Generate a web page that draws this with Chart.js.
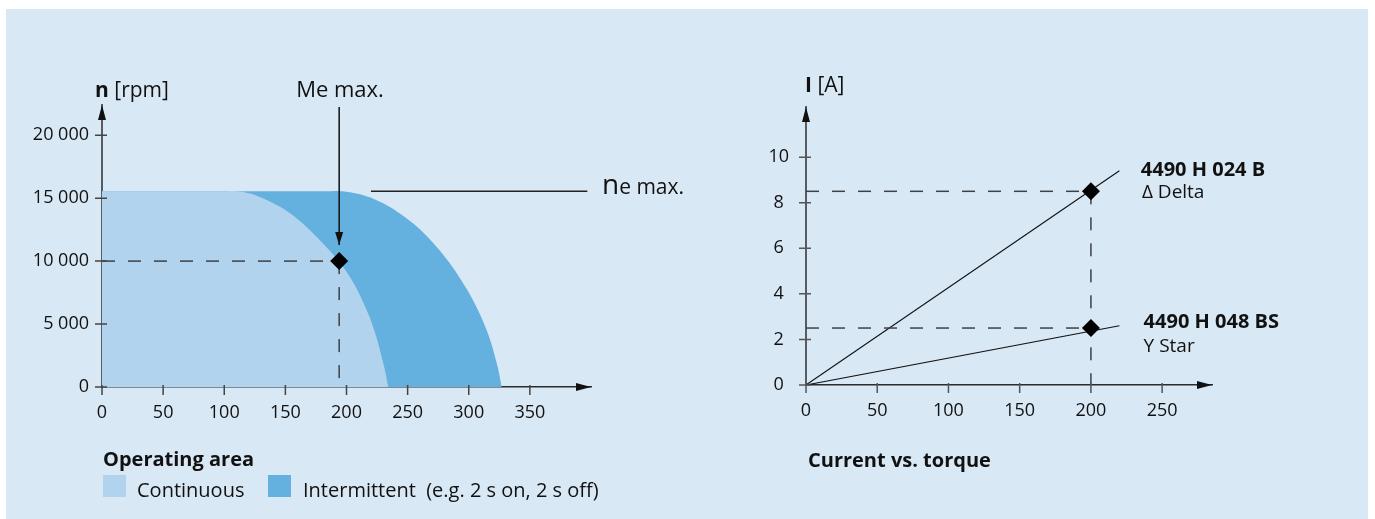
<!DOCTYPE html>
<html>
<head>
<meta charset="utf-8">
<script src="https://cdn.jsdelivr.net/npm/chart.js@4.4.1/dist/chart.umd.min.js"></script>
<style>
  html, body { margin: 0; background: #fff; width: 1375px; height: 519px; overflow: hidden; }
  #panel { position: absolute; left: 6px; top: 9px; width: 1362px; height: 510px; background: #d9e8f5; }
  .box { position: absolute; top: 0; height: 519px; }
  .note { position: absolute; font: 20px "Open Sans", "Noto Sans", sans-serif; color: #111; line-height: 22px; white-space: pre; }
  .b { font-weight: 700; }
  .sw { position: absolute; width: 23px; height: 22px; }
</style>
</head>
<body>
<div id="panel"></div>
<div class="box" style="left:0;width:700px"><canvas id="opArea"></canvas></div>
<div class="box" style="left:690px;width:685px"><canvas id="current"></canvas></div>

<div class="note b" style="left:103px;top:448px">Operating area</div>
<div class="sw" style="left:103px;top:475px;background:#b1d3ee"></div>
<div class="note" style="left:137px;top:479px">Continuous</div>
<div class="sw" style="left:268px;top:475px;background:#64b0de"></div>
<div class="note" style="left:303px;top:479px">Intermittent  (e.g. 2 s on, 2 s off)</div>
<div class="note b" style="left:808px;top:449px">Current vs. torque</div>

<script>
  // operating area: speed n [rpm] over torque M [mNm]
  const torqueTicks = [0, 50, 100, 150, 200, 250, 300, 350];
  const speedTicks = [0, 5000, 10000, 15000, 20000];
  const continuousM = [0, 100, 110, 121.1, 131.9, 145.6, 159.3, 172.8, 186.5, 197, 206, 214, 221.9, 230.1, 234.2];
  const continuousN = [15550, 15550, 15550, 15370, 14980, 14310, 13390, 12200, 10800, 9550, 8220, 6650, 4750, 1880, 0];
  const intermittentM = [0, 186, 196, 213.7, 227.4, 241.1, 254.6, 268.3, 282, 295.5, 303.7, 314.7, 322.9, 327];
  const intermittentN = [15550, 15550, 15550, 15240, 14710, 13950, 12980, 11720, 10140, 8230, 6850, 4500, 1880, 0];
  const meMaxM = 194;
  const meMaxN = 10000;
  const neMaxN = 15550;
  const neLineM = [220, 397];
  const meArrowN = [22250, 11270];

  // current vs torque: I [A] over M [mNm]
  const currentTorqueTicks = [0, 50, 100, 150, 200, 250];
  const currentTicks = [0, 2, 4, 6, 8, 10];
  const lineM = [0, 220];
  const deltaI = [0, 9.4];
  const starI = [0, 2.6];
  const ratedM = 200;
  const ratedDeltaI = 8.5;
  const ratedStarI = 2.5;

  const FONT = '"Open Sans", "Noto Sans", sans-serif';
  const dashColor = '#3d4248';
  Chart.defaults.font.family = FONT;

  function pts(xs, ys) { return xs.map((x, i) => ({ x: x, y: ys[i] })); }
  function fmt(v) { return String(v).replace(/\B(?=(\d{3})+$)/g, ' '); }

  function xScale(ticks, max) {
    return {
      type: 'linear', min: 0, max: max, z: 1,
      grid: { display: false, drawTicks: false },
      border: { color: '#2b2b2b', width: 1.5 },
      ticks: { padding: 15, color: '#111', font: { size: 18 }, maxRotation: 0, autoSkip: false },
      afterBuildTicks: s => { s.ticks = ticks.map(v => ({ value: v })); },
      afterFit: s => { s.height = 40; }
    };
  }
  function yScale(ticks, max, pad, align) {
    return {
      type: 'linear', min: 0, max: max, z: 1,
      grid: { display: false, drawTicks: false },
      border: { color: '#575c62', width: 2 },
      ticks: { padding: pad, crossAlign: align, color: '#111', font: { size: 18 }, autoSkip: false, callback: v => fmt(v) },
      afterBuildTicks: s => { s.ticks = ticks.map(v => ({ value: v })); },
      afterFit: s => { s.width = 70; }
    };
  }

  function head(ctx, tx, ty, dx, dy, len, w) {
    ctx.beginPath();
    ctx.moveTo(tx, ty);
    ctx.lineTo(tx - dx * len - dy * w, ty - dy * len + dx * w);
    ctx.lineTo(tx - dx * len + dy * w, ty - dy * len - dx * w);
    ctx.closePath();
    ctx.fill();
  }

  // tick marks across the axes, arrow heads and the text notes
  const decor = {
    id: 'decor',
    afterDraw(chart, args, o) {
      const { ctx, chartArea: a, scales: { x, y } } = chart;
      ctx.save();
      ctx.strokeStyle = o.tickColor;
      ctx.lineWidth = 1.5;
      ctx.beginPath();
      x.ticks.forEach(t => { const px = x.getPixelForValue(t.value); ctx.moveTo(px, a.bottom - 2); ctx.lineTo(px, a.bottom + 8); });
      y.ticks.forEach(t => { const py = y.getPixelForValue(t.value); ctx.moveTo(a.left - 7, py); ctx.lineTo(a.left + 5, py); });
      ctx.stroke();

      ctx.fillStyle = '#111';
      head(ctx, a.right, a.bottom, 1, 0, 15, 4);
      head(ctx, a.left, a.top, 0, -1, 15, 4);
      chart.data.datasets.forEach((d, i) => {
        if (!d.arrowEnd) return;
        const el = chart.getDatasetMeta(i).data;
        const p = el[el.length - 1], q = el[el.length - 2];
        const l = Math.hypot(p.x - q.x, p.y - q.y);
        head(ctx, p.x, p.y, (p.x - q.x) / l, (p.y - q.y) / l, 13, 4);
      });

      ctx.fillStyle = '#111';
      ctx.textBaseline = 'alphabetic';
      o.labels.forEach(l => {
        let px = x.getPixelForValue(l.x);
        const py = y.getPixelForValue(l.y);
        const widths = l.parts.map(p => { ctx.font = p.f; return ctx.measureText(p.t).width; });
        if (l.center) px -= widths.reduce((s, w) => s + w, 0) / 2;
        l.parts.forEach((p, i) => { ctx.font = p.f; ctx.fillText(p.t, px, py); px += widths[i]; });
      });
      ctx.restore();
    }
  };

  const reg = s => s + 'px ' + FONT;
  const bold = s => '700 ' + s + 'px ' + FONT;

  new Chart('opArea', {
    type: 'line',
    data: {
      datasets: [
        { data: pts(continuousM, continuousN), backgroundColor: '#b1d3ee', borderColor: 'rgba(0,0,0,0)', borderWidth: 0, fill: 'origin', tension: 0.4, order: 9 },
        { data: pts(intermittentM, intermittentN), backgroundColor: '#64b0de', borderColor: 'rgba(0,0,0,0)', borderWidth: 0, fill: 'origin', tension: 0.4, order: 10 },
        { data: pts(neLineM, [neMaxN, neMaxN]), borderColor: '#222', borderWidth: 1.3, order: 5 },
        { data: pts([0, meMaxM], [meMaxN, meMaxN]), borderColor: dashColor, borderWidth: 1.5, borderDash: [13, 13], order: 4 },
        { data: pts([meMaxM, meMaxM], [meMaxN, 0]), borderColor: dashColor, borderWidth: 1.5, borderDash: [13, 13], order: 4 },
        { data: pts([meMaxM, meMaxM], meArrowN), borderColor: '#111', borderWidth: 1.5, arrowEnd: true, order: 3 },
        { data: pts([meMaxM], [meMaxN]), showLine: false, pointStyle: 'rectRot', pointRadius: 9, pointBackgroundColor: '#000', pointBorderWidth: 0, order: 1 }
      ]
    },
    options: {
      responsive: true, maintainAspectRatio: false, animation: false, events: [],
      layout: { padding: { left: 32, right: 109, top: 105, bottom: 92 } },
      elements: { point: { radius: 0, hoverRadius: 0 } },
      scales: { x: xScale(torqueTicks, 400), y: yScale(speedTicks, 22400, 13, 'near') },
      plugins: {
        legend: { display: false }, tooltip: { enabled: false },
        decor: {
          tickColor: '#444',
          labels: [
            { x: -5.7, y: 23016, parts: [{ t: 'n', f: bold(21) }, { t: ' [rpm]', f: reg(21) }] },
            { x: 194.7, y: 23016, center: true, parts: [{ t: 'Me max.', f: reg(22) }] },
            { x: 409, y: 15317, parts: [{ t: 'n', f: reg(28) }, { t: 'e max.', f: reg(21) }] }
          ]
        }
      }
    },
    plugins: [decor]
  });

  new Chart('current', {
    type: 'line',
    data: {
      datasets: [
        { data: pts(lineM, deltaI), borderColor: '#111', borderWidth: 1.1, order: 5 },
        { data: pts(lineM, starI), borderColor: '#111', borderWidth: 1.1, order: 5 },
        { data: pts([0, ratedM], [ratedDeltaI, ratedDeltaI]), borderColor: dashColor, borderWidth: 1.5, borderDash: [13, 13], order: 4 },
        { data: pts([0, ratedM], [ratedStarI, ratedStarI]), borderColor: dashColor, borderWidth: 1.5, borderDash: [13, 13], order: 4 },
        { data: pts([ratedM, ratedM], [ratedDeltaI, 0]), borderColor: dashColor, borderWidth: 1.5, borderDash: [13, 13], order: 4 },
        { data: pts([ratedM, ratedM], [ratedDeltaI, ratedStarI]), showLine: false, pointStyle: 'rectRot', pointRadius: 9, pointBackgroundColor: '#000', pointBorderWidth: 0, order: 1 }
      ]
    },
    options: {
      responsive: true, maintainAspectRatio: false, animation: false, events: [],
      layout: { padding: { left: 46, right: 163, top: 107, bottom: 94 } },
      elements: { point: { radius: 0, hoverRadius: 0 } },
      scales: { x: xScale(currentTorqueTicks, 285), y: yScale(currentTicks, 12.2, 17, 'center') },
      plugins: {
        legend: { display: false }, tooltip: { enabled: false },
        decor: {
          tickColor: '#555',
          labels: [
            { x: -0.7, y: 12.87, parts: [{ t: 'I', f: bold(21) }, { t: ' [A]', f: reg(21) }] },
            { x: 235, y: 9.17, parts: [{ t: '4490 H 024 B', f: bold(20) }] },
            { x: 235.8, y: 8.2, parts: [{ t: 'Δ Delta', f: reg(19) }] },
            { x: 237, y: 2.5, parts: [{ t: '4490 H 048 BS', f: bold(20) }] },
            { x: 237, y: 1.47, parts: [{ t: 'Y Star', f: reg(19) }] }
          ]
        }
      }
    },
    plugins: [decor]
  });
</script>
</body>
</html>
